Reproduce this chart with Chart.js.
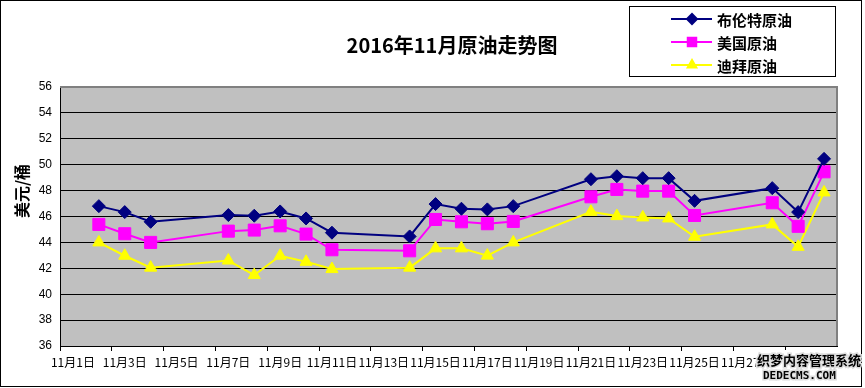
<!DOCTYPE html>
<html>
<head>
<meta charset="utf-8">
<script src="https://cdn.jsdelivr.net/npm/chart.js@4/dist/chart.umd.min.js"></script>
<style>
  html, body { margin: 0; padding: 0; background: #fff; }
  #wrap { width: 865px; height: 388px; position: relative; }
</style>
</head>
<body>
<div id="wrap"><canvas id="oilChart" width="865" height="388"></canvas></div>
<script>
// ===== DADOS =====
const dias = [];
for (let d = 1; d <= 30; d++) dias.push('11月' + d + '日');

const nomesSeries = ['布伦特原油', '美国原油', '迪拜原油'];

// valores por dia (null = sem pregão)
const brent = [null, 46.8, 46.34, 45.59, null, null, 46.11, 46.06, 46.39, 45.85, 44.75, null, null, 44.46,
  46.96, 46.6, 46.55, 46.8, null, null, 48.88, 49.11, 48.96, 48.96, 47.21, null, null, 48.19, 46.34, 50.45];
const eua = [null, 45.39, 44.67, 44.0, null, null, 44.87, 44.95, 45.28, 44.64, 43.43, null, null, 43.35,
  45.77, 45.59, 45.44, 45.62, null, null, 47.52, 48.09, 47.96, 47.96, 46.08, null, null, 47.06, 45.24, 49.45];
const dubai = [null, 44.0, 42.97, 42.05, null, null, 42.6, 41.48, 42.97, 42.5, 41.94, null, null, 42.05,
  43.54, 43.54, 42.98, 44.0, null, null, 46.36, 46.03, 45.93, 45.85, 44.44, null, null, 45.39, 43.66, 47.86];

const yMin = 36, yMax = 56, yStep = 2;

// ===== ESTILOS =====
const cores = ['#000080', '#FF00FF', '#FFFF00'];
const marcadores = ['rectRot', 'rect', 'triangle'];
const raios = [6.5, 8.5, 7];

const fonteCJK = '"Noto Sans CJK SC", "Liberation Sans", sans-serif';

// ===== PLUGIN: fundo, título, legenda =====
const extras = {
  id: 'extras',
  beforeDraw(chart) {
    const { ctx, chartArea: a } = chart;
    ctx.save();
    ctx.fillStyle = '#C0C0C0';
    ctx.fillRect(a.left, a.top, a.right - a.left, a.bottom - a.top);
    ctx.restore();
  },
  afterDraw(chart) {
    const { ctx, chartArea: a } = chart;
    ctx.save();
    // borda da área de plotagem (cinza em cima/direita)
    ctx.strokeStyle = '#808080';
    ctx.lineWidth = 2;
    ctx.beginPath();
    ctx.moveTo(a.left, a.top);
    ctx.lineTo(a.right, a.top);
    ctx.lineTo(a.right, a.bottom);
    ctx.stroke();

    // moldura externa
    ctx.strokeStyle = '#000';
    ctx.lineWidth = 1;
    ctx.strokeRect(0.5, 0.5, 861, 386);

    // título
    ctx.fillStyle = '#000';
    ctx.font = 'bold 20px ' + fonteCJK;
    ctx.textAlign = 'center';
    ctx.textBaseline = 'middle';
    ctx.fillText('2016年11月原油走势图', 452, 45);

    // título do eixo Y
    ctx.save();
    ctx.translate(22, 191);
    ctx.rotate(-Math.PI / 2);
    ctx.font = 'bold 16px ' + fonteCJK;
    ctx.fillText('美元/桶', 0, 0);
    ctx.restore();

    // legenda
    ctx.fillStyle = '#fff';
    ctx.fillRect(629.5, 6.5, 206, 70);
    ctx.strokeStyle = '#000';
    ctx.strokeRect(629.5, 6.5, 206, 70);
    const linhas = [19, 42, 65];
    chart.data.datasets.forEach((ds, i) => {
      const y = linhas[i];
      ctx.strokeStyle = ds.borderColor;
      ctx.lineWidth = 2;
      ctx.beginPath();
      ctx.moveTo(671, y);
      ctx.lineTo(712, y);
      ctx.stroke();
      Chart.helpers.drawPoint(ctx, {
        pointStyle: ds.pointStyle, radius: i === 1 ? 6 : 5, borderWidth: 1, rotation: 0
      }, 692, y);
      ctx.fillStyle = ds.backgroundColor;
      ctx.strokeStyle = ds.borderColor;
      ctx.fill();
      ctx.fillStyle = '#000';
      ctx.font = 'bold 15px ' + fonteCJK;
      ctx.textAlign = 'left';
      ctx.fillText(ds.label, 717, y + 1);
    });

    // marca d'água
    ctx.fillStyle = '#fff';
    ctx.fillRect(756, 350, 104, 34);
    ctx.font = 'bold 13px ' + fonteCJK;
    ctx.textAlign = 'left';
    ctx.lineWidth = 3;
    ctx.strokeStyle = '#ddd';
    ctx.strokeText('织梦内容管理系统', 757, 360);
    ctx.fillStyle = '#000';
    ctx.fillText('织梦内容管理系统', 757, 360);
    ctx.font = 'bold 11px "DejaVu Sans Mono", monospace';
    ctx.strokeText('DEDECMS.COM', 763, 376);
    ctx.fillText('DEDECMS.COM', 763, 376);
    ctx.restore();
  }
};

// ===== GRÁFICO =====
const series = [brent, eua, dubai];
const ctx = document.getElementById('oilChart').getContext('2d');
const grafico = new Chart(ctx, {
  type: 'line',
  data: {
    labels: dias,
    datasets: series.map((s, i) => ({
      label: nomesSeries[i],
      data: s,
      borderColor: cores[i],
      backgroundColor: cores[i],
      borderWidth: 2,
      pointStyle: marcadores[i],
      pointRadius: raios[i],
      pointHoverRadius: raios[i],
      pointBorderWidth: 1,
      spanGaps: true,
      tension: 0
    }))
  },
  options: {
    responsive: false,
    animation: false,
    events: [],
    layout: { padding: { left: 0, top: 87, right: 28, bottom: 0 } },
    plugins: { legend: { display: false }, title: { display: false }, tooltip: { enabled: false } },
    scales: {
      x: {
        offset: true,
        afterFit: s => { s.height = 42; },
        grid: {
          offset: true,
          drawOnChartArea: false,
          tickLength: 5,
          color: c => (c.index % 2 === 0 ? '#000' : 'rgba(0,0,0,0)')
        },
        border: { display: true, color: '#000', width: 1 },
        ticks: {
          autoSkip: false,
          maxRotation: 0,
          padding: 4,
          color: '#000',
          font: { family: fonteCJK, size: 12 },
          callback: function (v, i) { return i % 2 === 0 ? this.getLabelForValue(v) : ''; }
        }
      },
      y: {
        min: yMin,
        max: yMax,
        afterFit: s => { s.width = 60; },
        grid: { color: '#000', lineWidth: 1, tickLength: 0 },
        border: { display: true, color: '#000', width: 1 },
        ticks: {
          stepSize: yStep,
          padding: 8,
          color: '#000',
          font: { family: '"Liberation Sans", Arial, sans-serif', size: 12 }
        }
      }
    }
  },
  plugins: [extras]
});
</script>
</body>
</html>
